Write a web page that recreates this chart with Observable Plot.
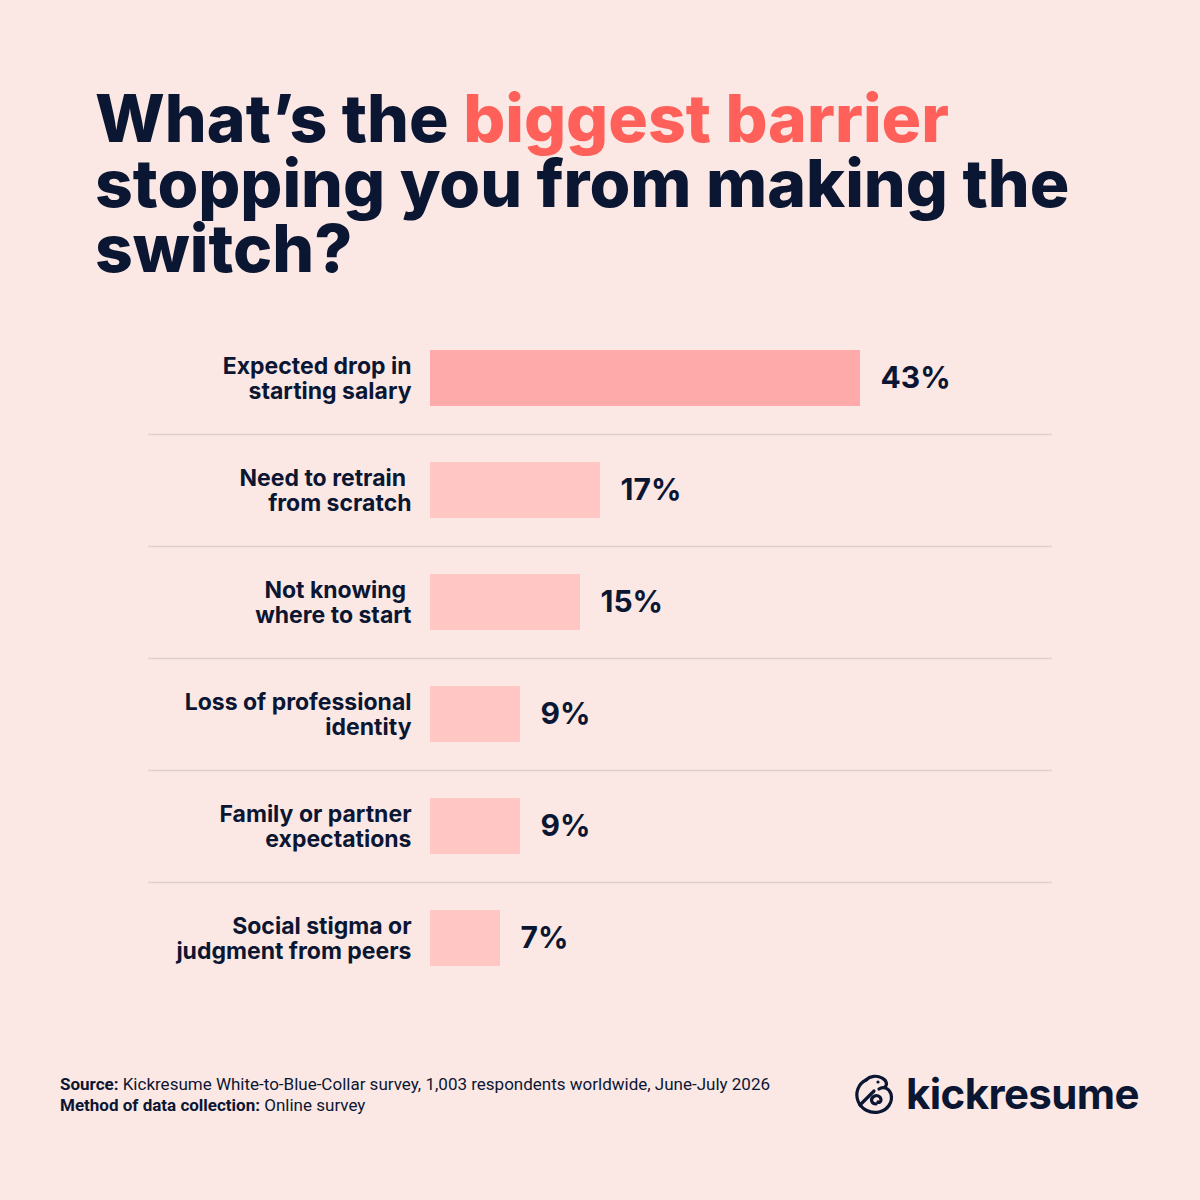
<!DOCTYPE html>
<html>
<head>
<meta charset="utf-8">
<script src="https://cdn.jsdelivr.net/npm/d3@7"></script>
<script src="https://cdn.jsdelivr.net/npm/@observablehq/plot@0.6"></script>
<style>
  html, body { margin: 0; padding: 0; background: #FBE8E4; }
  #wrap { position: relative; width: 1200px; height: 1200px; background: #FBE8E4; overflow: hidden; }
  #title { position: absolute; left: 95px; top: 86px; width: 1100px; font-family: Inter, sans-serif; font-weight: 800; font-size: 66px; line-height: 65px; letter-spacing: 0px; color: #0B1633; }
  #title .hl { color: #FF605A; }
  #chart { position: absolute; left: 0; top: 322px; }
  #footer { position: absolute; left: 60px; top: 1074px; font-family: Roboto, sans-serif; font-size: 17px; line-height: 21px; color: #0B1633; }
  #footer b { font-weight: 700; }
  #logo { position: absolute; left: 852px; top: 1069px; height: 50px; display: flex; align-items: center; }
  #logo span { font-family: Inter, sans-serif; font-weight: 700; font-size: 42px; line-height: 42px; letter-spacing: -0.6px; color: #0B1633; margin-left: 8px; }
</style>
</head>
<body>
<div id="wrap">
  <div id="title">What’s the <span class="hl">biggest barrier</span><br>stopping you from making the<br>switch?</div>
  <div id="chart"></div>
  <div id="footer"><b>Source:</b> Kickresume White-to-Blue-Collar survey, 1,003 respondents worldwide, June-July 2026<br><b>Method of data collection:</b> Online survey</div>
  <div id="logo">
    <svg width="46" height="46" viewBox="0 0 46 46" fill="none" stroke="#0B1633" stroke-width="3.2" stroke-linecap="round" stroke-linejoin="round">
      <path d="M14 9 C 6 13, 3 22, 6 30 C 9 38, 18 43, 27 41 C 36 39, 41 31, 39 23 C 37 17, 31 15, 27 18"/>
      <path d="M14 9 C 18 5, 25 4, 30 7 C 34 9, 36 13, 33 16"/>
      <path d="M8 34 L 22 20"/>
      <path d="M24 33 C 20 33, 18 29, 21 26 C 24 23, 29 25, 29 29 C 29 31, 27 32, 26 31"/>
      <circle cx="26" cy="11" r="1.6" fill="#0B1633" stroke="none"/>
    </svg>
    <span>kickresume</span>
  </div>
</div>
<script>
const categories = [
  "Expected drop in\nstarting salary",
  "Need to retrain\u00A0\nfrom scratch",
  "Not knowing\u00A0\nwhere to start",
  "Loss of professional\nidentity",
  "Family or partner\nexpectations",
  "Social stigma or\njudgment from peers"
];
const values = [43, 17, 15, 9, 9, 7];
const valueLabels = ["43%", "17%", "15%", "9%", "9%", "7%"];

const rows = categories.map((c, i) => ({category: c, value: values[i], label: valueLabels[i], index: i}));

const chart = Plot.plot({
  width: 1200,
  height: 672,
  marginTop: 0,
  marginBottom: 0,
  marginLeft: 430,
  marginRight: 148,
  style: {background: "transparent", overflow: "visible"},
  x: {domain: [0, 62.2], axis: null},
  y: {domain: categories, axis: null, paddingInner: 0.5, paddingOuter: 0.25},
  marks: [
    Plot.ruleY(rows.slice(0, -1), {y: "category", dy: 56, insetLeft: -282, stroke: "#DCCFCC", strokeWidth: 1.5}),
    Plot.barX(rows, {x: "value", y: "category", fill: d => d.index === 0 ? "#FFAAAA" : "#FFC6C3"}),
    Plot.text(rows, {x: 0, y: "category", text: "category", textAnchor: "end", dx: -19, lineHeight: 1.07,
      fontFamily: "Inter, sans-serif", fontWeight: 700, fontSize: 23, letterSpacing: "0.3px", fill: "#0B1633"}),
    Plot.text(rows, {x: "value", y: "category", text: "label", textAnchor: "start", dx: 20,
      fontFamily: "Inter, sans-serif", fontWeight: 700, fontSize: 30, fill: "#0B1633"})
  ]
});
document.getElementById("chart").appendChild(chart);
</script>
</body>
</html>
